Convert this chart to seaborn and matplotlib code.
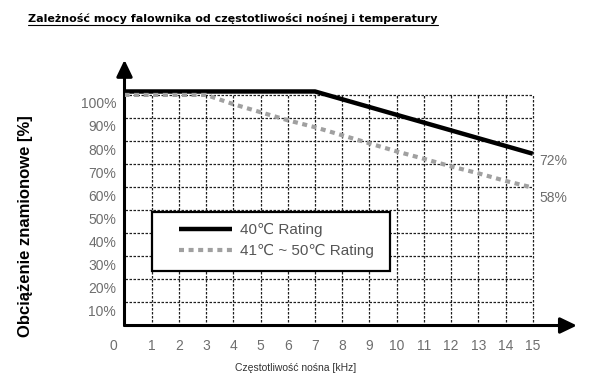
import matplotlib
matplotlib.use("Agg")
import matplotlib.pyplot as plt
import matplotlib.transforms as mtransforms
from matplotlib.lines import Line2D
from matplotlib.patches import Rectangle
import seaborn as sns

"""
Data read off the reference chart.
"""
freq_40 = [0, 7, 15]
load_40 = [101.5, 101.5, 74.5]

freq_50 = list(range(16))
load_50 = [100, 100, 100, 100, 96, 92.5, 89, 86, 82.5, 79, 75.5, 72.3, 69, 66, 62.7, 59.8]

x_ticks = list(range(16))
y_ticks = list(range(10, 101, 10))
end_labels = ["72%", "58%"]
series_names = ["40\u2103 Rating", "41\u2103 ~ 50\u2103 Rating"]

title = "Zależność mocy falownika od częstotliwości nośnej i temperatury"
x_title = "Częstotliwość nośna [kHz]"
y_title = "Obciążenie znamionowe [%]"

"""
Style
"""
sns.set_style("white")
plt.rcParams["font.family"] = ["Liberation Sans", "DejaVu Sans"]
tick_grey = "#6e6e6e"
dot_grey = "#a0a0a0"

fig = plt.figure(figsize=(6, 3.8), dpi=100)
ax = fig.add_axes([0.2075, 0.1434, 0.754, 0.699])
ax.set_xlim(0, 16.62)
ax.set_ylim(0, 115.2)
for s in ax.spines.values():
    s.set_visible(False)

# dotted grid, only inside 0-15 kHz / 0-100 %
grid_style = dict(colors="#202020", linewidth=0.9, linestyles=(0, (2, 1.2)), zorder=1)
ax.vlines(x_ticks[1:], 0, 100, **grid_style)
ax.hlines(y_ticks, 0, 15, **grid_style)

# curves
sns.lineplot(x=freq_40, y=load_40, ax=ax, color="black", linewidth=3.2,
             label=series_names[0], zorder=4, solid_capstyle="butt")
sns.lineplot(x=freq_50, y=load_50, ax=ax, color=dot_grey, linewidth=3,
             linestyle=(0, (1.2, 1.1)), dash_capstyle="butt",
             label=series_names[1], zorder=4)

# end value labels
ax.text(15.25, load_40[-1] - 3.2, end_labels[0], fontsize=10, color=tick_grey, va="center")
ax.text(15.25, load_50[-1] - 4.5, end_labels[1], fontsize=10, color=tick_grey, va="center")

# legend box
ax.add_patch(Rectangle((1.0, 23.8), 8.75, 25.6, facecolor="white",
                       edgecolor="black", linewidth=1.6, zorder=3))
leg = ax.legend(loc="center left", bbox_to_anchor=(2.0, 36.9), bbox_transform=ax.transData,
                frameon=False, fontsize=11, handlelength=3.5, handletextpad=0.5,
                labelspacing=0.45, borderpad=0, borderaxespad=0)
leg.set_zorder(5)
for t in leg.get_texts():
    t.set_color("#555555")

# axes with arrow heads
arrow = dict(arrowstyle="-|>,head_length=0.5,head_width=0.24", lw=2.2, color="black",
             shrinkA=0, shrinkB=0, mutation_scale=20)
ax.annotate("", xy=(16.62, 0), xytext=(0, 0), arrowprops=arrow, annotation_clip=False)
ax.annotate("", xy=(0, 115.2), xytext=(0, 0), arrowprops=arrow, annotation_clip=False)

# ticks
ax.set_xticks(x_ticks)
ax.set_xticklabels([str(v) for v in x_ticks])
ax.set_yticks(y_ticks)
ax.set_yticklabels([f"{v}%" for v in y_ticks])
ax.tick_params(axis="both", length=0, labelsize=10, labelcolor=tick_grey)
ax.tick_params(axis="x", pad=9.5)
ax.tick_params(axis="y", pad=6)

down = mtransforms.ScaledTranslation(0, -8 / 100, fig.dpi_scale_trans)
for lab in ax.get_yticklabels():
    lab.set_transform(lab.get_transform() + down)
left = mtransforms.ScaledTranslation(-11 / 100, 0, fig.dpi_scale_trans)
zero_lab = ax.get_xticklabels()[0]
zero_lab.set_transform(zero_lab.get_transform() + left)

# axis titles
fig.text(296 / 600, 1 - 368 / 380, x_title, fontsize=7.5, color="#333333", ha="center", va="center")
fig.text(26 / 600, 1 - 226 / 380, y_title, fontsize=12, fontweight="bold", color="black",
         rotation=90, ha="center", va="center")

# underlined title
t = fig.text(28 / 600, 1 - 18 / 380, title, fontsize=8, fontweight="bold", color="black",
             ha="left", va="center", family="DejaVu Sans")
fig.canvas.draw()
bb = t.get_window_extent().transformed(fig.transFigure.inverted())
fig.add_artist(Line2D([bb.x0, bb.x1], [bb.y0 - 0.004, bb.y0 - 0.004], color="black",
                      linewidth=0.8, transform=fig.transFigure))

plt.savefig("out.png", dpi=100)
